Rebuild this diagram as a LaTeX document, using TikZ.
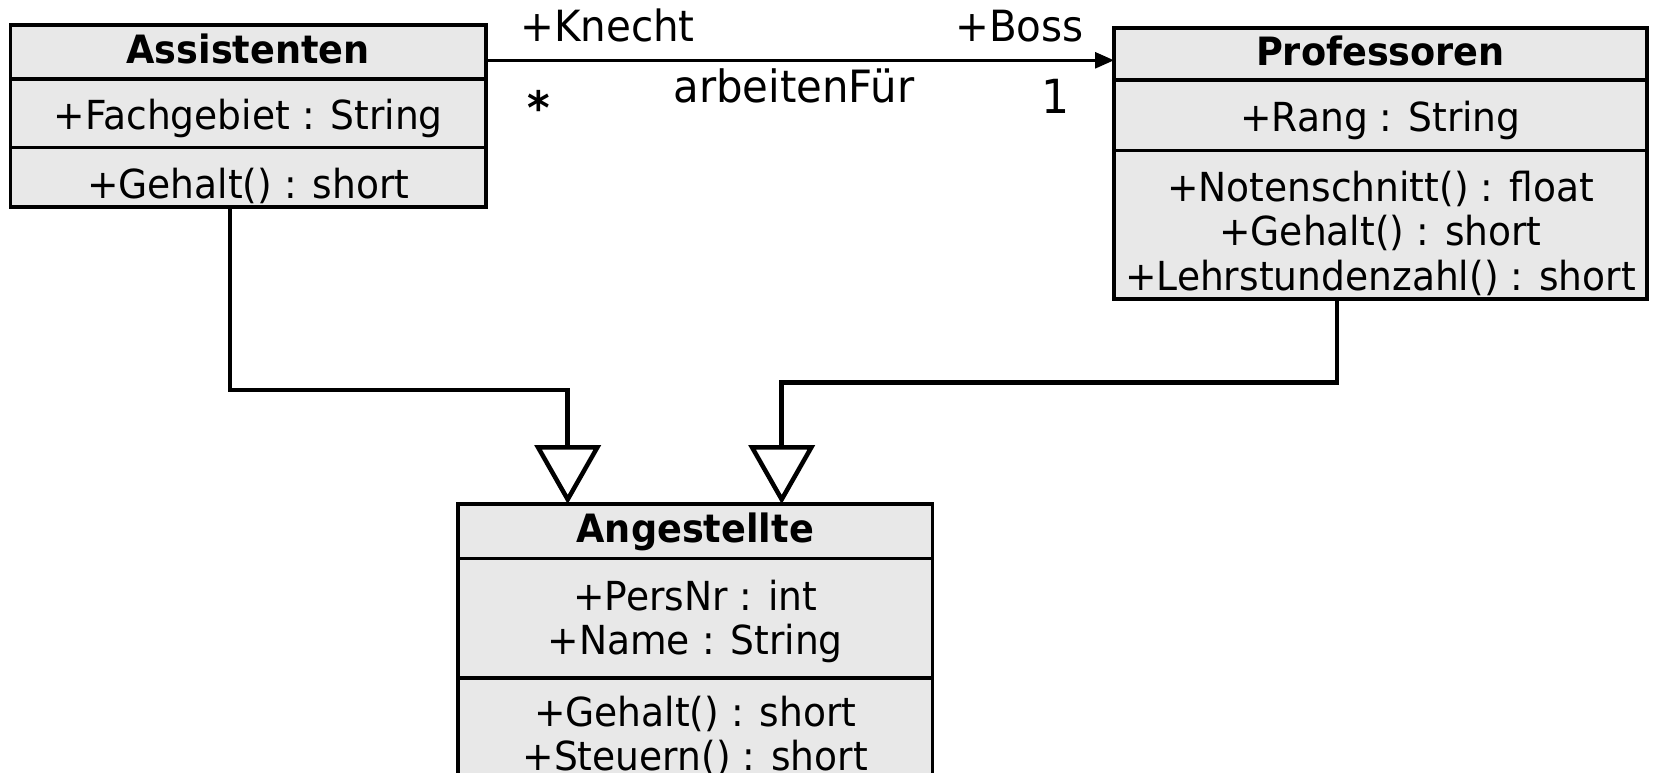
\documentclass[tikz,border=0pt]{standalone}
\usepackage{fontspec}
\setmainfont{DejaVu Sans}[FakeStretch=0.94]
\usetikzlibrary{arrows.meta}
\definecolor{classfill}{HTML}{E8E8E8}
\tikzset{
  umlbox/.style={draw=black, fill=classfill, line width=3.6pt, inner sep=0pt, outer sep=0pt},
  divider/.style={line width=3.6pt},
  member/.style={anchor=base, inner sep=0pt, font=\fontsize{40}{44}\selectfont},
  classname/.style={anchor=base, inner sep=0pt, font=\fontsize{39}{44}\selectfont\bfseries},
  assoclabel/.style={inner sep=0pt, font=\fontsize{43}{48}\selectfont},
  generalization/.style={line width=4.5pt, -{Triangle[open, length=59pt 0 0, width=66pt 0 0]}},
  association/.style={line width=2.8pt, -{Triangle[length=19pt 0 0, width=16pt 0 0]}},
}
\begin{document}
\begin{tikzpicture}[x=1pt, y=-1pt]
  \useasboundingbox (0,0) rectangle (1655,773);
  \clip (0,0) rectangle (1655,773);
  \fill[white] (0,0) rectangle (1655,773);

  % class boxes
  \node[umlbox, minimum width=475.5pt, minimum height=182pt] (assi) at (248.25,116) {};
  \node[umlbox, minimum width=533pt, minimum height=271pt] (prof) at (1380.5,163.5) {};
  \node[umlbox, minimum width=474.5pt, minimum height=316pt] (ang) at (695.25,662) {};

  % compartment dividers
  \draw[divider] (assi.west |- 0,79) -- (assi.east |- 0,79);
  \draw[divider] (assi.west |- 0,147.5) -- (assi.east |- 0,147.5);
  \draw[divider] (prof.west |- 0,80) -- (prof.east |- 0,80);
  \draw[divider] (prof.west |- 0,150.5) -- (prof.east |- 0,150.5);
  \draw[divider] (ang.west |- 0,558.5) -- (ang.east |- 0,558.5);
  \draw[divider] (ang.west |- 0,678) -- (ang.east |- 0,678);

  % Assistenten
  \node[classname] (assiName) at (248.25,64) {Assistenten};
  \node[member] (assiAttr) at (248.25,130) {+Fachgebiet : String};
  \node[member] (assiOp) at (248.25,198) {+Gehalt() : short};

  % Professoren
  \node[classname] (profName) at (1380.5,66) {Professoren};
  \node[member] (profAttr) at (1380.5,132) {+Rang : String};
  \node[member] (profOp1) at (1380.5,201) {+Notenschnitt() : float};
  \node[member] (profOp2) at (1380.5,245.5) {+Gehalt() : short};
  \node[member] (profOp3) at (1380.5,290) {+Lehrstundenzahl() : short};

  % Angestellte
  \node[classname] (angName) at (695.25,542) {Angestellte};
  \node[member] (angAttr1) at (695.25,610) {+PersNr : int};
  \node[member] (angAttr2) at (695.25,654) {+Name : String};
  \node[member] (angOp1) at (695.25,726) {+Gehalt() : short};
  \node[member] (angOp2) at (695.25,770) {+Steuern() : short};

  % association arbeitenFür
  \draw[association] (assi.east |- 0,60.3) -- (prof.west |- 0,60.3);
  \node[assoclabel, anchor=base west] (roleKnecht) at (520,42) {+Knecht};
  \node[assoclabel, anchor=base east] (roleBoss) at (1084,42) {+Boss};
  \node[assoclabel, anchor=base, font=\fontsize{44.5}{48}\selectfont] (assocName) at (794,103) {arbeitenFür};
  \node[assoclabel, anchor=base, font=\fontsize{46}{50}\selectfont\bfseries] (multMany) at (539,125) {*};
  \node[assoclabel, anchor=base, font=\fontsize{47}{50}\selectfont] (multOne) at (1056,114) {1};

  % generalizations
  \coordinate (aBendA) at (230,390);
  \coordinate (aBendB) at (567.7,390);
  \coordinate (pBendA) at (1337,382.7);
  \coordinate (pBendB) at (781.7,382.7);
  \draw[generalization] (assi.south -| aBendA) -- (aBendA) -- (aBendB) -- (ang.north -| aBendB);
  \draw[generalization] (prof.south -| pBendA) -- (pBendA) -- (pBendB) -- (ang.north -| pBendB);
\end{tikzpicture}
\end{document}
